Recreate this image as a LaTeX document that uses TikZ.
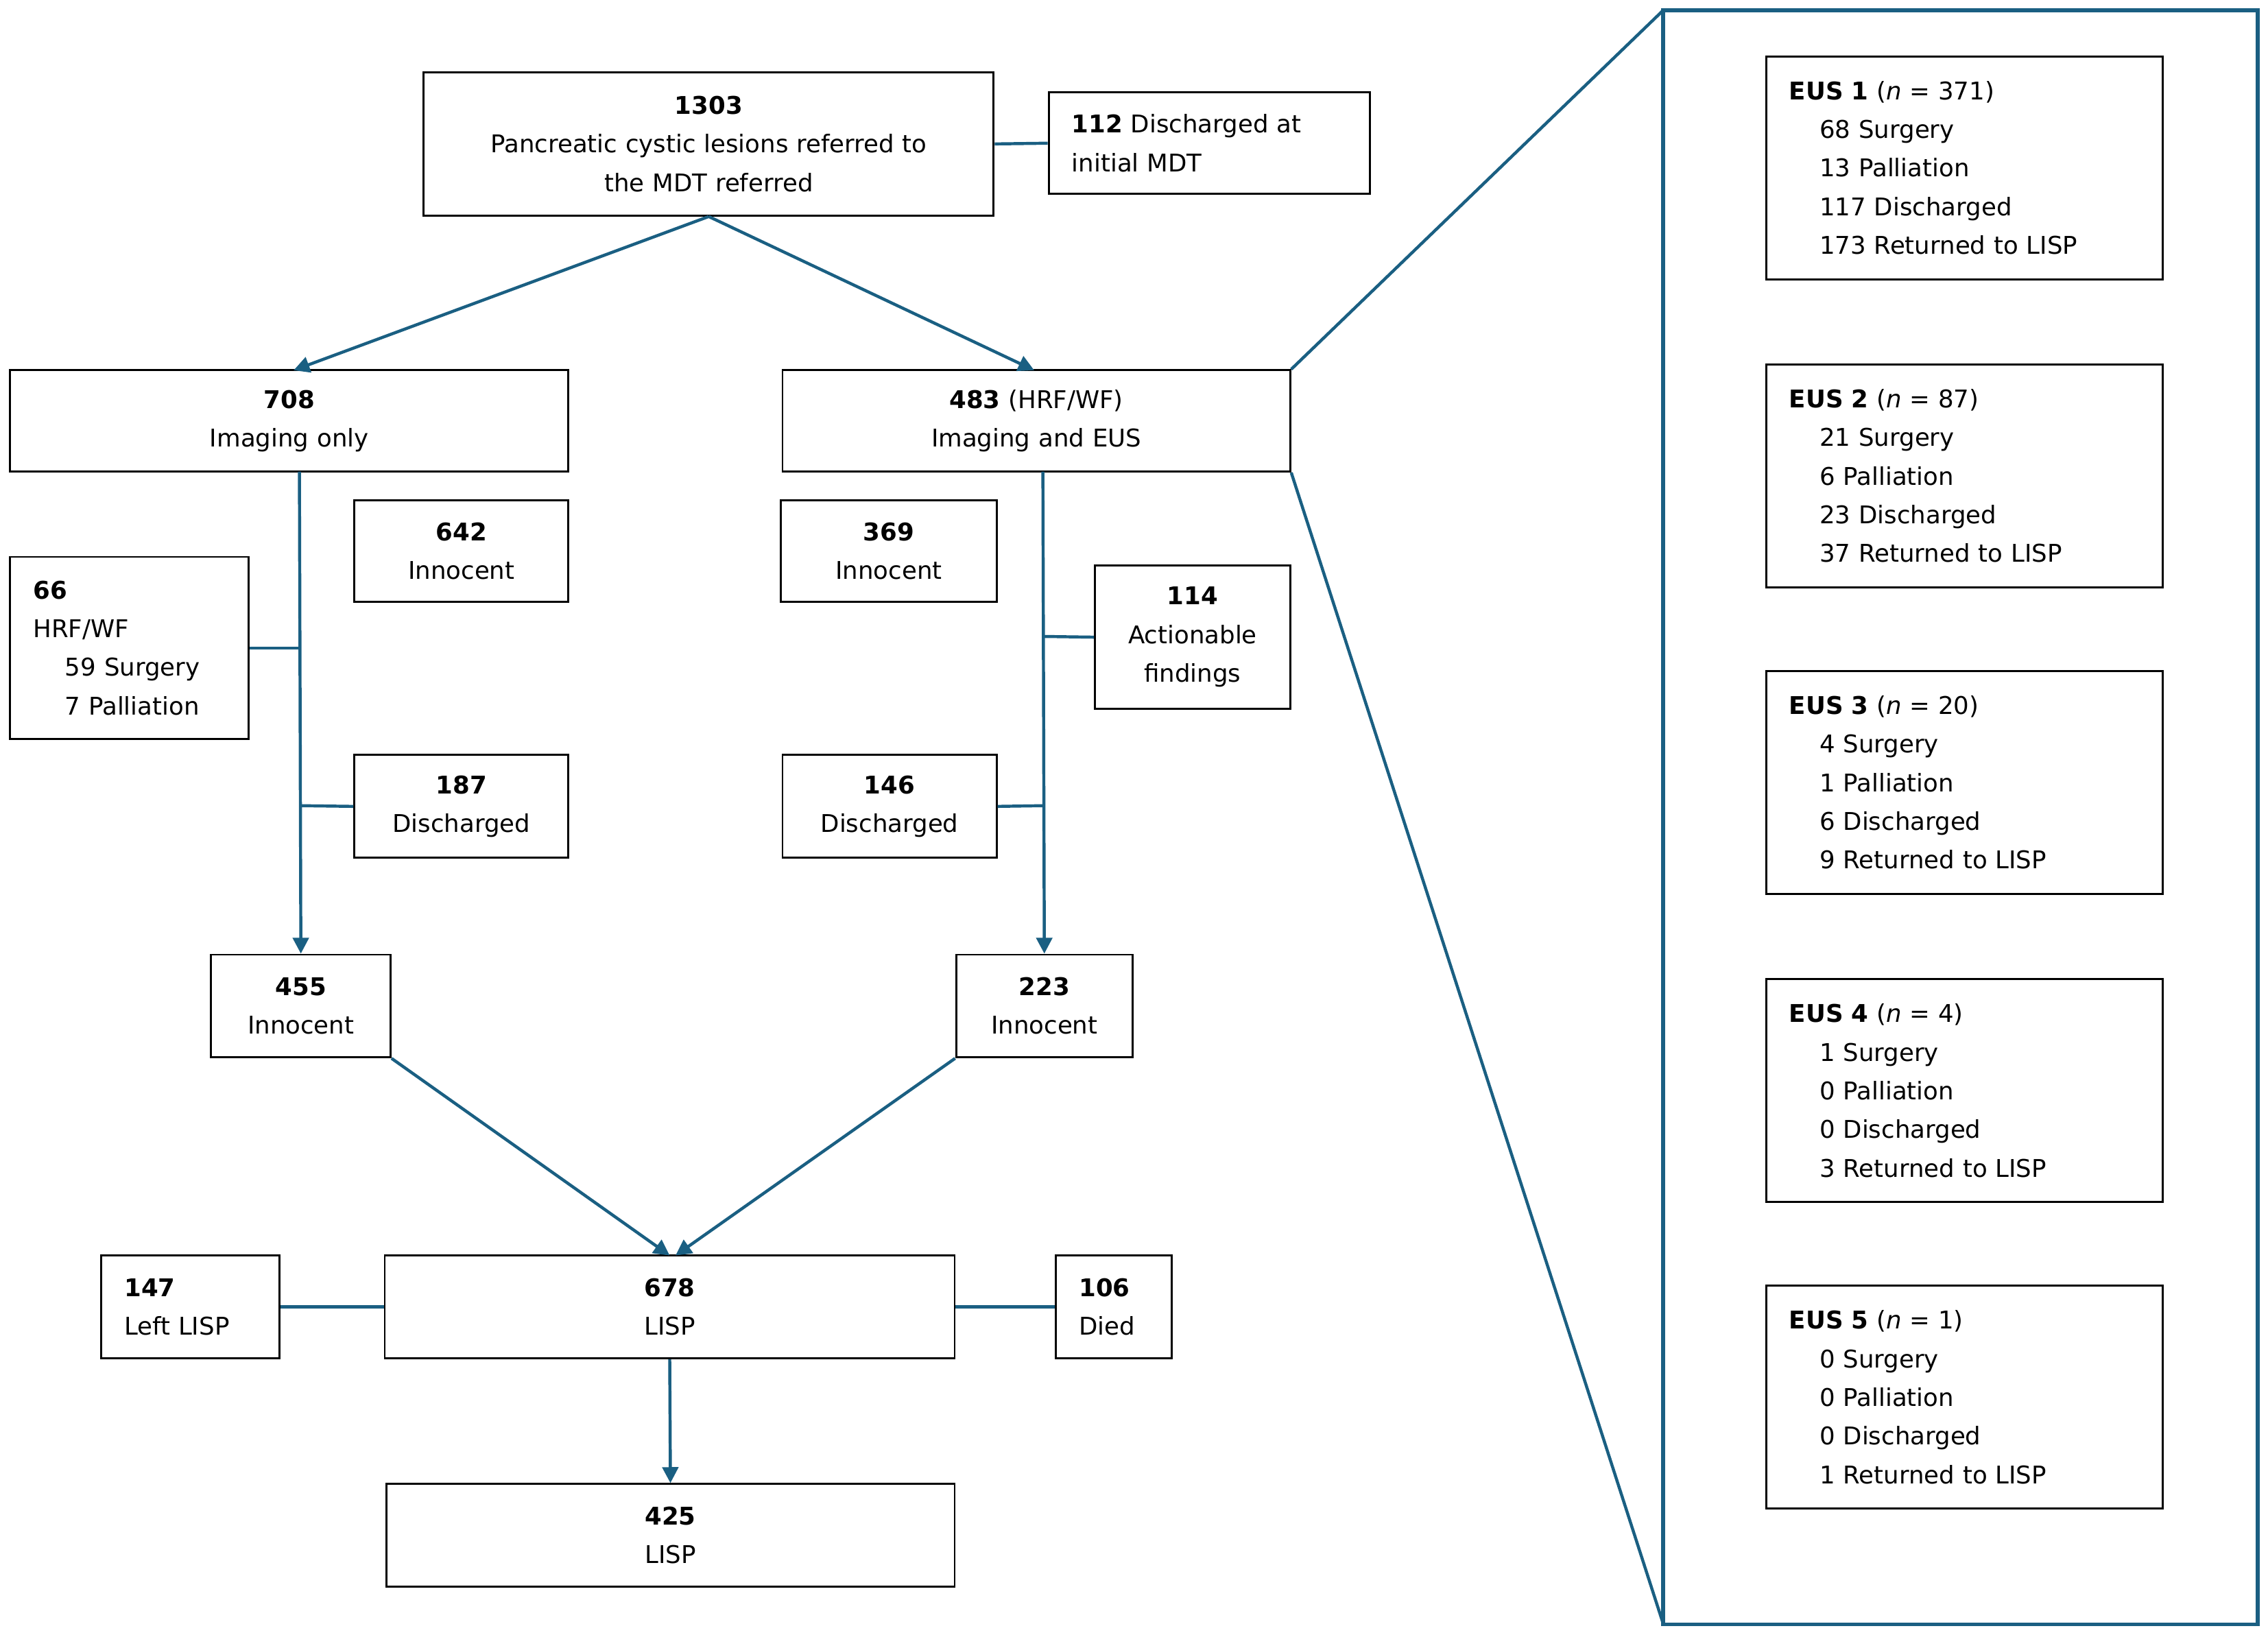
\documentclass[tikz,border=0pt]{standalone}
\usepackage{fontspec}
\setmainfont{DejaVu Sans}
\usetikzlibrary{arrows.meta}
\definecolor{ln}{RGB}{26,95,130}
\begin{document}
\begin{tikzpicture}[x=0.05cm,y=-0.05cm,
  box/.style={draw=black,line width=2pt,inner xsep=0.8cm,inner ysep=0pt,font=\fontsize{24}{38}\selectfont},
  ctr/.style={align=center},
  lft/.style={align=left},
  con/.style={draw=ln,line width=3pt},
  arr/.style={con,-{Triangle[length=0.55cm,width=0.55cm]}}]
\useasboundingbox (0,0) rectangle (1568,1130);
\newcommand\bx[7]{\node[box,#6,minimum width={(#4-#2)*0.05cm},minimum height={(#5-#3)*0.05cm},text width={(#4-#2)*0.05cm-1.6cm}] (#1) at ({(#2+#4)/2},{(#3+#5)/2}) {#7};}
\bx{top}{293}{50}{687}{149}{ctr}{\textbf{1303}\\Pancreatic cystic lesions referred to\\the MDT referred}
\bx{dis}{725}{64}{947}{134}{lft}{\textbf{112} Discharged at\\initial MDT}
\bx{img}{7}{256}{393}{326}{ctr}{\textbf{708}\\Imaging only}
\bx{eus}{541}{256}{892}{326}{ctr}{\textbf{483} (HRF/WF)\\Imaging and EUS}
\bx{a642}{245}{346}{393}{416}{ctr}{\textbf{642}\\Innocent}
\bx{a66}{7}{385}{172}{511}{lft}{\textbf{66}\\HRF/WF\\\hspace*{1.1cm}59 Surgery\\\hspace*{1.1cm}7 Palliation}
\bx{a187}{245}{522}{393}{593}{ctr}{\textbf{187}\\Discharged}
\bx{a369}{540}{346}{689}{416}{ctr}{\textbf{369}\\Innocent}
\bx{a114}{757}{391}{892}{490}{ctr}{\textbf{114}\\Actionable\\findings}
\bx{a146}{541}{522}{689}{593}{ctr}{\textbf{146}\\Discharged}
\bx{a455}{146}{660}{270}{731}{ctr}{\textbf{455}\\Innocent}
\bx{a223}{661}{660}{783}{731}{ctr}{\textbf{223}\\Innocent}
\bx{a678}{266}{868}{660}{939}{ctr}{\textbf{678}\\LISP}
\bx{a147}{70}{868}{193}{939}{lft}{\textbf{147}\\Left LISP}
\bx{a106}{730}{868}{810}{939}{lft}{\textbf{106}\\Died}
\bx{a425}{267}{1026}{660}{1097}{ctr}{\textbf{425}\\LISP}
\newcommand\eusb[8]{\bx{#1}{1221}{#2}{1495}{#3}{lft}{\textbf{EUS #4} (\textit{n} = #5)\\\hspace*{1.05cm}#6 Surgery\\\hspace*{1.05cm}#7 Palliation\\\hspace*{1.05cm}#8}}
\eusb{e1}{39}{193}{1}{371}{68}{13}{117 Discharged\\\hspace*{1.05cm}173 Returned to LISP}
\eusb{e2}{252}{406}{2}{87}{21}{6}{23 Discharged\\\hspace*{1.05cm}37 Returned to LISP}
\eusb{e3}{464}{618}{3}{20}{4}{1}{6 Discharged\\\hspace*{1.05cm}9 Returned to LISP}
\eusb{e4}{677}{831}{4}{4}{1}{0}{0 Discharged\\\hspace*{1.05cm}3 Returned to LISP}
\eusb{e5}{889}{1043}{5}{1}{0}{0}{0 Discharged\\\hspace*{1.05cm}1 Returned to LISP}
\draw[ln,line width=4pt] (1150,7) rectangle (1561,1123);
\draw[con] (eus.north east) -- (1150,7);
\draw[con] (eus.south east) -- (1150,1123);
% connectors
\draw[con] (top.east) -- (dis.west);
\draw[arr] (top.south) -- (203,256);
\draw[arr] (top.south) -- (715,256);
\draw[arr] (207,326) -- (a455.north -| 208,0);
\draw[con] (a66.east) -- (207,448);
\draw[con] (a187.west) -- (207.5,557);
\draw[arr] (721,326) -- (a223.north -| 722,0);
\draw[con] (a114.west) -- (721.5,440);
\draw[con] (a146.east) -- (721.5,557);
\draw[arr] (a455.south east) -- (463,868);
\draw[arr] (a223.south west) -- (467,868);
\draw[con] (a147.east) -- (a678.west);
\draw[con] (a678.east) -- (a106.west);
\draw[arr] (a678.south) -- (a425.north);
\end{tikzpicture}
\end{document}
